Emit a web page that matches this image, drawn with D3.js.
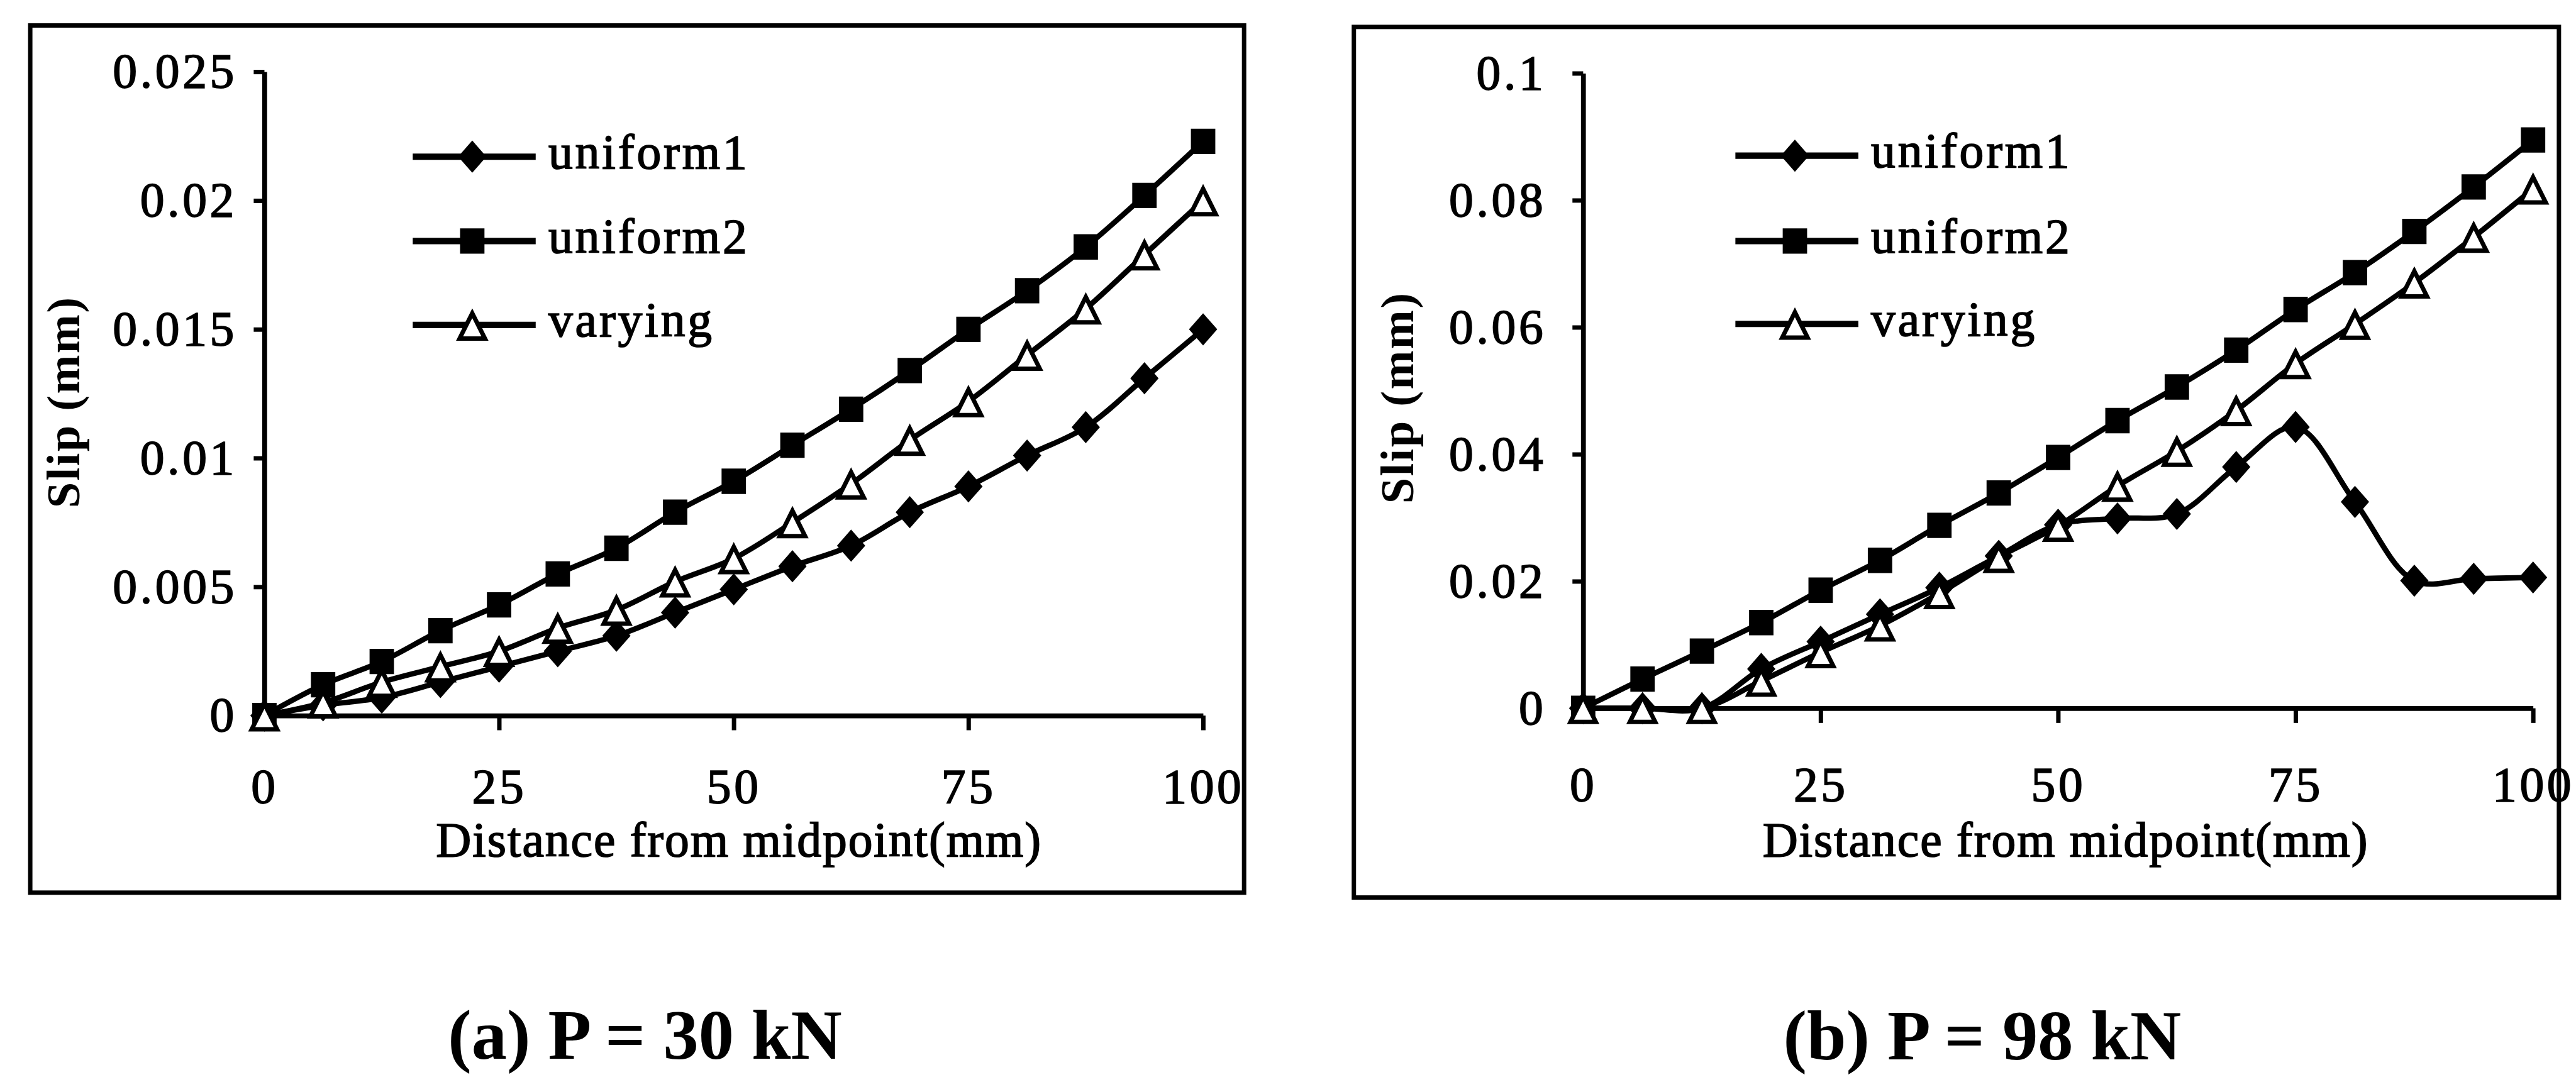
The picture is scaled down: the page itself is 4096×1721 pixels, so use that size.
<!DOCTYPE html>
<html>
<head>
<meta charset="utf-8">
<script src="https://cdn.jsdelivr.net/npm/d3@7"></script>
<style>
  html, body { margin: 0; padding: 0; background: #fff; }
  svg { display: block; }
  text { font-family: "Liberation Serif", "Times New Roman", serif; fill: #000; }
</style>
</head>
<body>
<script>
// Measurement stations along the bond length (mm from midpoint)
const distance = [0, 6.25, 12.5, 18.75, 25, 31.25, 37.5, 43.75, 50, 56.25, 62.5, 68.75, 75, 81.25, 87.5, 93.75, 100];

const seriesNames = ["uniform1", "uniform2", "varying"];

// Slip (mm) at P = 30 kN
const uniform1_30kN = [0, 0.0004, 0.0007, 0.0013, 0.0019, 0.0025, 0.0031, 0.0040, 0.0049, 0.0058, 0.0066, 0.0079, 0.0089, 0.0101, 0.0112, 0.0131, 0.0150];
const uniform2_30kN = [0, 0.0012, 0.0021, 0.0033, 0.0043, 0.0055, 0.0065, 0.0079, 0.0091, 0.0105, 0.0119, 0.0134, 0.0150, 0.0165, 0.0182, 0.0202, 0.0223];
const varying_30kN  = [0, 0.0005, 0.0013, 0.0019, 0.0025, 0.0034, 0.0041, 0.0052, 0.0061, 0.0075, 0.0090, 0.0107, 0.0122, 0.0140, 0.0158, 0.0179, 0.0200];

// Slip (mm) at P = 98 kN
const uniform1_98kN = [0, 0, 0, 0.0062, 0.0105, 0.0148, 0.0190, 0.0240, 0.0289, 0.0299, 0.0306, 0.0380, 0.0443, 0.0325, 0.0201, 0.0204, 0.0206];
const uniform2_98kN = [0, 0.0046, 0.0090, 0.0135, 0.0186, 0.0233, 0.0288, 0.0339, 0.0395, 0.0453, 0.0506, 0.0564, 0.0628, 0.0686, 0.0751, 0.0821, 0.0895];
const varying_98kN  = [0, 0, 0, 0.0043, 0.0088, 0.0130, 0.0181, 0.0238, 0.0287, 0.0350, 0.0405, 0.0469, 0.0543, 0.0605, 0.0670, 0.0742, 0.0818];

const xTicks = [0, 25, 50, 75, 100];
const xTickLabels = ["0", "25", "50", "75", "100"];
const yTicks30kN = [0, 0.005, 0.01, 0.015, 0.02, 0.025];
const yTickLabels30kN = ["0", "0.005", "0.01", "0.015", "0.02", "0.025"];
const yTicks98kN = [0, 0.02, 0.04, 0.06, 0.08, 0.1];
const yTickLabels98kN = ["0", "0.02", "0.04", "0.06", "0.08", "0.1"];

const captions = ["(a) P = 30 kN", "(b) P = 98 kN"];
const xTitle = "Distance from midpoint(mm)";
const yTitle = "Slip (mm)";

// Page geometry is laid out in a 5280 x 2218 coordinate space and scaled to the window
const W = 5280, H = 2218;
const svg = d3.select("body").append("svg")
  .attr("width", 4096).attr("height", 1721)
  .attr("viewBox", `0 0 ${W} ${H}`);
svg.append("rect").attr("width", W).attr("height", H).attr("fill", "#fff");

const panels = [
  {
    values: [uniform1_30kN, uniform2_30kN, varying_30kN],
    yTicks: yTicks30kN, yLabels: yTickLabels30kN, yMax: 0.025,
    caption: captions[0],
    layout: { frame: [62, 52, 2550, 1830], x0: 542, x1: 2466, yb: 1467, yt: 147,
              yPad: 34, xPad: 78, legendX: 846, legendY: [321, 494, 666],
              yTitleX: 163, yTitleY: 824, xTitleX: 1515, xTitleY: 1756, capX: 1322, capY: 2170 }
  },
  {
    values: [uniform1_98kN, uniform2_98kN, varying_98kN],
    yTicks: yTicks98kN, yLabels: yTickLabels98kN, yMax: 0.1,
    caption: captions[1],
    layout: { frame: [2775, 55, 5245, 1840], x0: 3245, x1: 5192, yb: 1452, yt: 150,
              yPad: 54, xPad: 89, legendX: 3557, legendY: [319, 494, 664],
              yTitleX: 2897, yTitleY: 815, xTitleX: 4234, xTitleY: 1756, capX: 4063, capY: 2172 }
  }
];

// Marker shapes (relative to point), in series order
const markerPaths = [
  "M0,-33L29,0L0,33L-29,0Z",          // diamond
  "M-25,-26H25V26H-25Z",              // square
  "M0,-24L26,28L-26,28Z"              // open triangle
];
function styleMarker(sel, i) {
  if (i === 2) {
    sel.attr("fill", "#fff").attr("stroke", "#000").attr("stroke-width", 9).attr("stroke-linejoin", "miter");
  } else {
    sel.attr("fill", "#000").attr("stroke", "none");
  }
}

const textStroke = sel => sel.attr("stroke", "#000").attr("stroke-width", 2.2);

panels.forEach(p => {
  const L = p.layout;
  const g = svg.append("g");

  // outer frame
  const [fx0, fy0, fx1, fy1] = L.frame;
  g.append("rect").attr("x", fx0).attr("y", fy0).attr("width", fx1 - fx0).attr("height", fy1 - fy0)
    .attr("fill", "none").attr("stroke", "#000").attr("stroke-width", 9);

  const x = d3.scaleLinear().domain([0, 100]).range([L.x0, L.x1]);
  const y = d3.scaleLinear().domain([0, p.yMax]).range([L.yb, L.yt]);

  // y axis
  const yAxis = d3.axisLeft(y).tickValues(p.yTicks).tickSize(22).tickSizeOuter(0)
    .tickPadding(L.yPad).tickFormat((d, i) => p.yLabels[i]);
  const ya = g.append("g").attr("transform", `translate(${L.x0},0)`).call(yAxis);
  ya.attr("font-family", null);
  ya.select(".domain").attr("stroke-width", 10);
  ya.selectAll(".tick line").attr("stroke-width", 9);
  ya.selectAll(".tick text").attr("font-size", 100).attr("letter-spacing", 6)
    .attr("fill", "#000").call(textStroke);

  // x axis
  const xAxis = d3.axisBottom(x).tickValues(xTicks).tickSize(30).tickSizeOuter(0)
    .tickPadding(L.xPad).tickFormat((d, i) => xTickLabels[i]);
  const xa = g.append("g").attr("transform", `translate(0,${L.yb})`).call(xAxis);
  xa.attr("font-family", null);
  xa.select(".domain").attr("stroke-width", 10);
  xa.selectAll(".tick line").attr("stroke-width", 9);
  xa.selectAll(".tick text").attr("font-size", 100).attr("letter-spacing", 6)
    .attr("fill", "#000").call(textStroke);

  // axis titles
  g.append("text").attr("x", L.xTitleX).attr("y", L.xTitleY).attr("text-anchor", "middle")
    .attr("font-size", 100).attr("letter-spacing", 2.5).text(xTitle).call(textStroke);
  g.append("text").attr("transform", `translate(${L.yTitleX},${L.yTitleY}) rotate(-90)`)
    .attr("text-anchor", "middle").attr("font-size", 96).attr("font-weight", "bold")
    .attr("letter-spacing", 3).text(yTitle);

  // series: smoothed line then markers
  const line = d3.line().x(d => x(d[0])).y(d => y(d[1])).curve(d3.curveCatmullRom.alpha(0.5));
  p.values.forEach((vals, i) => {
    const pts = distance.map((dx, k) => [dx, vals[k]]);
    g.append("path").datum(pts).attr("d", line)
      .attr("fill", "none").attr("stroke", "#000").attr("stroke-width", 11)
      .attr("stroke-linejoin", "round");
    g.append("g").selectAll("path").data(pts).join("path")
      .attr("transform", d => `translate(${x(d[0])},${y(d[1])})`)
      .attr("d", markerPaths[i])
      .call(s => styleMarker(s, i));
  });

  // legend
  seriesNames.forEach((name, i) => {
    const ly = L.legendY[i];
    const lg = g.append("g");
    lg.append("line").attr("x1", L.legendX).attr("x2", L.legendX + 252).attr("y1", ly).attr("y2", ly)
      .attr("stroke", "#000").attr("stroke-width", 13);
    lg.append("path").attr("transform", `translate(${L.legendX + 122},${ly})`)
      .attr("d", markerPaths[i]).call(s => styleMarker(s, i));
    lg.append("text").attr("x", L.legendX + 278).attr("y", ly + 24)
      .attr("font-size", 100).attr("letter-spacing", 5).text(name).call(textStroke);
  });

  // caption
  svg.append("text").attr("x", L.capX).attr("y", L.capY).attr("text-anchor", "middle")
    .attr("font-size", 145).attr("font-weight", "bold").text(p.caption);
});
</script>
</body>
</html>
